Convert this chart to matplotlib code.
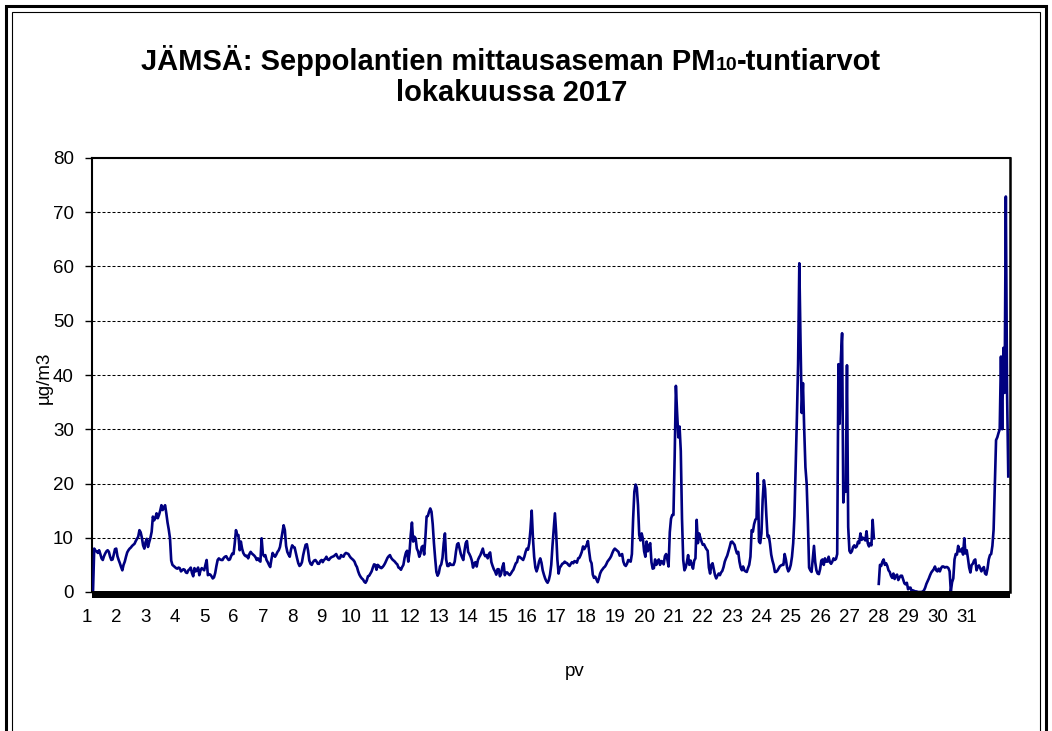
import numpy as np
import matplotlib
matplotlib.use("Agg")
import matplotlib.pyplot as plt
from matplotlib.patches import Rectangle
from matplotlib.transforms import blended_transform_factory

nan = np.nan

# Hourly PM10 values (µg/m3), 24 readings per row
part1 = [
    0, 8.0, 7.6, 7.5, 7.2, 7.7, 7.0, 6.2, 5.9, 6.6, 7.1, 7.5, 7.7, 7.4, 6.5, 5.9, 6.0, 6.9, 7.9, 8.0, 6.6, 5.9, 5.3, 4.6,
    4.0, 5.0, 5.6, 6.5, 7.3, 7.7, 8.0, 8.2, 8.5, 8.7, 8.9, 9.4, 9.8, 10.2, 11.4, 11.0, 10.0, 8.6, 8.0, 9.2, 9.8, 8.3, 9.2, 10.0,
    11.1, 13.9, 13.2, 13.6, 14.5, 13.6, 14.2, 15.0, 16.0, 15.1, 15.6, 16.0, 14.5, 12.8, 11.5, 9.9, 5.8, 5.0, 4.8, 4.6, 4.4, 4.3, 4.5, 4.4,
    3.8, 4.0, 4.2, 4.1, 3.6, 3.5, 4.0, 4.2, 4.5, 3.5, 2.9, 4.4, 3.8, 4.0, 4.5, 3.1, 4.0, 4.4, 4.2, 4.0, 5.0, 5.9, 3.1, 3.3,
    3.2, 2.9, 2.5, 2.7, 3.5, 4.8, 5.9, 6.2, 6.0, 5.9, 5.9, 6.3, 6.5, 6.6, 6.2, 5.9, 6.0, 6.6, 7.1, 7.0, 9.0, 11.4, 10.5, 10.5,
    7.7, 9.3, 8.0, 7.2, 6.8, 6.6, 6.7, 6.2, 7.0, 7.4, 7.1, 6.9, 6.7, 6.4, 5.9, 6.2, 5.8, 5.6, 9.9, 7.0, 6.6, 6.8, 5.9, 5.5,
    5.0, 4.6, 6.0, 7.2, 6.8, 6.5, 6.9, 7.4, 7.7, 8.3, 9.6, 11.0, 12.3, 11.4, 8.5, 7.4, 6.9, 6.5, 7.8, 8.6, 8.3, 8.2, 7.2, 6.2,
]
part2 = [
    5.3, 4.8, 5.0, 5.5, 6.8, 7.8, 8.7, 8.8, 7.6, 5.8, 5.2, 5.0, 5.5, 5.8, 5.9, 5.6, 5.2, 5.2, 5.7, 5.9, 5.5, 5.9, 6.1, 6.5,
    6.0, 5.9, 6.2, 6.4, 6.5, 6.6, 6.8, 7.0, 6.5, 6.2, 6.2, 6.8, 6.6, 6.5, 7.0, 7.2, 7.1, 7.0, 6.6, 6.3, 6.1, 5.9, 5.6, 5.0,
    4.6, 3.8, 3.2, 2.8, 2.5, 2.3, 1.9, 1.7, 2.1, 2.9, 3.0, 3.4, 3.8, 4.5, 5.1, 5.0, 4.1, 5.0, 4.8, 4.5, 4.4, 4.6, 4.9, 5.3,
    5.8, 6.3, 6.6, 6.8, 6.3, 6.0, 5.8, 5.6, 5.3, 5.1, 4.5, 4.4, 4.1, 4.6, 5.0, 6.3, 7.2, 7.6, 5.6, 7.3, 10.5, 12.8, 9.3, 10.2,
    9.9, 8.0, 7.5, 6.5, 7.1, 8.3, 8.5, 6.9, 10.0, 13.9, 14.0, 14.8, 15.4, 14.8, 12.5, 9.0, 6.2, 3.7, 3.0, 3.5, 4.7, 5.1, 6.3, 9.0,
    10.8, 6.0, 4.8, 4.8, 5.3, 5.0, 5.0, 5.0, 5.6, 7.4, 8.8, 9.0, 8.0, 7.0, 6.4, 5.9, 7.6, 9.0, 9.4, 7.4, 7.0, 6.5, 5.8, 4.5,
    5.3, 5.5, 4.7, 5.9, 6.4, 6.8, 7.4, 8.0, 7.0, 6.6, 6.8, 6.2, 7.0, 7.3, 5.5, 4.8, 4.2, 3.8, 3.2, 4.2, 4.2, 2.9, 3.4, 4.6,
]
part3 = [
    5.3, 3.1, 3.6, 3.6, 3.3, 3.1, 3.4, 3.8, 4.1, 4.7, 5.3, 5.5, 6.5, 6.5, 6.3, 6.1, 5.9, 6.5, 7.4, 8.0, 7.8, 9.0, 11.5, 15.0,
    10.0, 6.5, 4.5, 3.8, 4.5, 5.6, 6.2, 5.4, 4.0, 3.2, 2.5, 2.0, 1.7, 2.2, 3.2, 5.0, 8.5, 11.5, 14.5, 11.0, 6.0, 3.4, 4.5, 4.8,
    5.2, 5.3, 5.6, 5.4, 5.3, 5.0, 4.8, 5.2, 5.5, 5.3, 5.7, 5.6, 5.4, 6.2, 6.3, 6.8, 7.4, 8.4, 7.9, 8.3, 8.7, 9.4, 7.5, 5.8,
    5.3, 3.2, 2.6, 2.8, 2.3, 1.8, 2.5, 3.4, 3.9, 4.2, 4.5, 4.7, 5.1, 5.6, 5.9, 6.2, 6.6, 7.2, 7.7, 8.0, 7.8, 7.6, 7.4, 6.7,
    6.8, 7.0, 5.6, 5.0, 4.8, 5.2, 5.9, 5.7, 5.6, 7.0, 13.5, 18.5, 19.8, 19.2, 16.0, 10.5, 9.5, 10.8, 9.8, 7.5, 6.5, 9.3, 7.5, 8.5,
    9.0, 5.5, 4.3, 4.4, 6.0, 5.0, 5.6, 6.0, 5.0, 5.7, 5.6, 5.1, 6.6, 7.0, 6.0, 4.7, 11.0, 13.5, 14.2, 14.2, 25.0, 38.0, 33.0, 28.5,
    30.5, 26.0, 13.5, 5.9, 4.0, 4.5, 5.5, 6.8, 5.0, 5.8, 5.0, 4.3, 5.8, 6.2, 13.3, 9.0, 10.8, 10.0, 9.3, 8.7, 8.8, 8.3, 7.9, 7.6,
]
part4 = [
    4.5, 3.4, 5.0, 5.3, 4.2, 3.1, 2.5, 3.0, 3.4, 3.1, 3.6, 3.9, 4.6, 5.6, 6.2, 6.7, 7.5, 8.3, 9.2, 9.3, 9.0, 8.7, 7.8, 7.1,
    7.4, 5.6, 4.5, 4.0, 4.7, 4.0, 3.8, 3.7, 4.4, 5.0, 6.5, 11.4, 11.1, 12.5, 13.3, 13.6, 21.9, 9.3, 9.0, 10.8, 17.0, 20.6, 19.0, 14.2,
    10.2, 10.4, 8.9, 6.9, 5.8, 5.0, 3.7, 3.7, 3.9, 4.3, 4.7, 4.9, 5.0, 5.0, 7.0, 6.0, 4.5, 3.8, 4.2, 5.0, 6.5, 9.0, 14.0, 23.0,
    32.0, 42.0, 60.6, 46.0, 33.0, 38.5, 30.0, 23.0, 20.0, 13.0, 4.5, 4.0, 3.7, 6.0, 8.5, 5.5, 4.0, 3.4, 3.3, 4.2, 5.8, 6.0, 5.0, 6.2,
    5.6, 5.6, 6.5, 5.5, 5.2, 5.6, 6.2, 5.9, 6.1, 7.0, 42.0, 31.0, 43.0, 47.7, 16.5, 20.0, 18.5, 41.8, 12.0, 7.6, 7.2, 7.5, 8.3, 8.6,
    8.2, 8.4, 9.3, 9.0, 10.8, 9.6, 10.0, 9.8, 9.5, 11.2, 9.0, 8.4, 9.0, 8.6, 13.3, 9.9, nan, nan, nan, 1.5, 5.0, 4.8, 5.6, 6.0,
    5.0, 5.3, 4.8, 4.0, 3.7, 3.0, 2.6, 3.4, 2.4, 3.0, 3.2, 2.2, 2.7, 3.0, 3.0, 2.3, 1.6, 1.4, 1.7, 0.5, 0.8, 0.8, 0.1, 0.3,
]
part5 = [
    0.2, 0.1, 0.1, 0.0, 0.0, 0.0, 0.0, 0.1, 0.3, 0.8, 1.5, 2.0, 2.5, 3.1, 3.6, 3.9, 4.2, 4.7, 4.0, 3.8, 4.3, 3.8, 4.4, 4.7,
    4.7, 4.5, 4.6, 4.6, 4.4, 3.8, 0.1, 1.8, 2.5, 6.0, 7.0, 6.9, 8.5, 7.5, 7.5, 8.0, 6.9, 9.9, 7.1, 7.7, 6.2, 4.5, 3.6, 5.0,
    5.2, 5.8, 6.0, 4.0, 4.6, 4.9, 4.4, 3.8, 4.3, 4.6, 3.4, 3.2, 4.3, 6.0, 6.8, 7.0, 8.5, 11.5, 20.0, 28.0, 28.5, 29.3, 30.0, 43.4,
    30.0, 45.0, 36.7, 72.9, 37.0, 21.3,
]

day_labels = [str(d) for d in range(1, 32)]
y_ticks = [0, 10, 20, 30, 40, 50, 60, 70, 80]
title_main = "JÄMSÄ: Seppolantien mittausaseman PM"
title_sub = "10"
title_tail = "-tuntiarvot"
title_line2 = "lokakuussa 2017"
y_label = "µg/m3"
x_label = "pv"

values = np.array(part1 + part2 + part3 + part4 + part5, dtype=float)
hours = np.arange(len(values))

W, H = 1052, 731
fig = plt.figure(figsize=(W / 100, H / 100), dpi=100)
fig.patch.set_facecolor("white")


def fx(px):
    return px / W


def fy(py):
    return 1 - py / H


FONT = "Liberation Sans"

# axes placement (pixels)
ax_l, ax_r, ax_t, ax_b = 92, 1010, 158, 592
ax = fig.add_axes([fx(ax_l), fy(ax_b), (ax_r - ax_l) / W, (ax_b - ax_t) / H])
px_per_hour = 1.222
first_px = 93
ax.set_xlim((ax_l - first_px) / px_per_hour, (ax_r - first_px) / px_per_hour)
ax.set_ylim(0, 80)

ax.set_yticks(y_ticks)
ax.yaxis.grid(True, color="black", lw=0.75, linestyle=(0, (2.9, 1.9)))
ax.set_axisbelow(True)
ax.plot(hours, values, color="#000080", lw=1.9, zorder=3)

ax.tick_params(axis="y", direction="out", length=5, width=1, pad=8,
               labelsize=13.5, colors="black")
for lab in ax.get_yticklabels():
    lab.set_family(FONT)
ax.set_xticks([])

for side in ["left", "top"]:
    ax.spines[side].set_linewidth(1.5)
ax.spines["right"].set_linewidth(1.8)
ax.spines["bottom"].set_visible(False)

# thick x-axis bar
fig.add_artist(Rectangle((fx(92), fy(598)), (1010 - 92) / W, 7 / H,
                         transform=fig.transFigure, color="black", lw=0, zorder=5))

# day labels
trans = blended_transform_factory(ax.transData, fig.transFigure)
for i, lab in enumerate(day_labels):
    px = 87 + i * 29.33
    ax.text((px - first_px) / px_per_hour, fy(618), lab, transform=trans,
            ha="center", va="center", fontsize=13.5, family=FONT, clip_on=False)

fig.text(fx(575), fy(672), x_label, ha="center", va="center", fontsize=13.5, family=FONT)
fig.text(fx(44), fy(378), y_label, ha="center", va="center", rotation=90,
         fontsize=13.5, family=FONT)

# title
tkw = dict(family=FONT, weight="bold", va="baseline", ha="left")
t1 = fig.text(0, fy(70), title_main, fontsize=21, **tkw)
t2 = fig.text(0, fy(70), title_sub, fontsize=14, **tkw)
t3 = fig.text(0, fy(70), title_tail, fontsize=21, **tkw)
fig.text(fx(512), fy(101), title_line2, fontsize=21, family=FONT, weight="bold",
         va="baseline", ha="center")
fig.canvas.draw()
r = fig.canvas.get_renderer()
w1 = t1.get_window_extent(r).width
w2 = t2.get_window_extent(r).width
w3 = t3.get_window_extent(r).width
x0 = 511 - (w1 + w2 + w3) / 2
t1.set_x(fx(x0))
t2.set_x(fx(x0 + w1))
t3.set_x(fx(x0 + w1 + w2))

# chart border (double line)
fig.add_artist(Rectangle((fx(6), -0.1), (1046 - 6) / W, 1.1 - 6 / H,
                         transform=fig.transFigure, fill=False, ec="black", lw=2.2))
fig.add_artist(Rectangle((fx(12), -0.1), (1040 - 12) / W, 1.1 - 12 / H,
                         transform=fig.transFigure, fill=False, ec="black", lw=0.8))

fig.savefig("out.png", dpi=100)
